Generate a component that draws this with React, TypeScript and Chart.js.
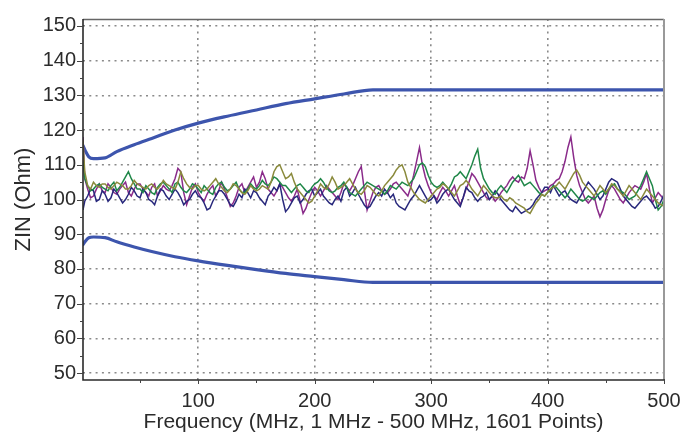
import React, { useEffect, useRef } from "react";
import { Chart, registerables } from "chart.js";

Chart.register(...registerables);

const freqs = [1, 2.5, 5, 7.5, 10, 12.5, 15, 17.5, 20, 22.5, 25, 27.5, 30, 32.5, 35, 37.5, 40, 42.5, 45, 47.5,
  50, 52.5, 55, 57.5, 60, 62.5, 65, 67.5, 70, 72.5, 75, 77.5, 80, 82.5, 85, 87.5, 90, 92.5, 95, 97.5,
  100, 102.5, 105, 107.5, 110, 112.5, 115, 117.5, 120, 122.5, 125, 127.5, 130, 132.5, 135, 137.5, 140, 142.5, 145, 147.5,
  150, 152.5, 155, 157.5, 160, 162.5, 165, 167.5, 170, 172.5, 175, 177.5, 180, 182.5, 185, 187.5, 190, 192.5, 195, 197.5,
  200, 202.5, 205, 207.5, 210, 212.5, 215, 217.5, 220, 222.5, 225, 227.5, 230, 232.5, 235, 237.5, 240, 242.5, 245, 247.5,
  250, 252.5, 255, 257.5, 260, 262.5, 265, 267.5, 270, 272.5, 275, 277.5, 280, 282.5, 285, 287.5, 290, 292.5, 295, 297.5,
  300, 302.5, 305, 307.5, 310, 312.5, 315, 317.5, 320, 322.5, 325, 327.5, 330, 332.5, 335, 337.5, 340, 342.5, 345, 347.5,
  350, 352.5, 355, 357.5, 360, 362.5, 365, 367.5, 370, 372.5, 375, 377.5, 380, 382.5, 385, 387.5, 390, 392.5, 395, 397.5,
  400, 402.5, 405, 407.5, 410, 412.5, 415, 417.5, 420, 422.5, 425, 427.5, 430, 432.5, 435, 437.5, 440, 442.5, 445, 447.5,
  450, 452.5, 455, 457.5, 460, 462.5, 465, 467.5, 470, 472.5, 475, 477.5, 480, 482.5, 485, 487.5, 490, 492.5, 495, 497.5,
  500];

const navyTrace = [97, 99.5, 101, 103, 102.5, 99.5, 100, 102.5, 101.5, 99.5, 100.5, 103, 102, 100.5, 99, 100, 101.5, 103.5, 102.5, 101,
  100.5, 103, 102, 100, 99.5, 98.5, 101, 103, 102.5, 101, 100, 101.5, 103, 102, 100.5, 98.5, 99.5, 100, 101.5, 102.5,
  101, 100.5, 99, 97, 97.5, 99.5, 101, 102.5, 102.5, 101.5, 100, 98.5, 98, 99.5, 101.5, 100.5, 103, 102, 100.5, 102.5,
  102, 100.5, 99.5, 98.5, 101, 102, 103.5, 102.5, 104.5, 100, 96.5, 97.5, 99, 100.5, 101, 99, 100, 101.5, 102.5, 103,
  101, 102, 103, 101, 100, 99, 98.5, 100, 101, 99.5, 102.5, 103.5, 101, 102, 103.5, 101.5, 100, 98.5, 97.5, 98,
  99.5, 101, 102, 101, 103, 102, 100.5, 101.5, 99, 98, 97.5, 97, 98.5, 100, 101, 102.5, 104, 102.5, 101, 99.5,
  100, 101, 99, 100, 101.5, 102.5, 103, 101.5, 100, 99, 98, 100.5, 103.5, 102.5, 102, 100.5, 99.5, 100.5, 101, 102,
  100, 101, 102.5, 101.5, 100, 99, 98, 97, 96.5, 98, 97, 96, 96.5, 97, 97.5, 98.5, 100, 101, 102, 103.5,
  103.5, 102, 104, 102.5, 101, 102, 102.5, 101, 100, 99.5, 99, 100.5, 102, 103.5, 105, 104, 103, 101.5, 100, 101,
  103, 105, 106, 105.5, 105, 103, 101, 100, 99, 98, 97.5, 98.5, 99.5, 100.5, 101, 100, 99, 97.5, 98, 99.5,
  101.5];

const purpleTrace = [118, 106, 103, 100.5, 101, 103, 104.5, 102.5, 102, 104.5, 103.5, 102, 101.5, 103, 104, 105, 102, 101, 103, 104.5,
  104.5, 103, 102, 101, 103.5, 104.5, 101, 102.5, 104, 103, 102.5, 104, 106, 109, 108, 102, 98.5, 101, 103.5, 104.5,
  102, 100.5, 99.5, 101.5, 103, 104, 101, 102.5, 105, 103, 100.5, 98, 99, 101, 103.5, 104.5, 102, 103.5, 105, 106.5,
  103.5, 105, 108, 106, 103, 102, 101, 102.5, 104.5, 103.5, 102, 100.5, 99.5, 101, 103, 99.5, 96, 97.5, 100, 102,
  103.5, 102.5, 101, 102.5, 104, 103, 102, 101, 100, 102, 104.5, 103.5, 102.5, 104, 106, 108, 109.5, 103, 97, 99.5,
  102, 103.5, 104, 102.5, 101.5, 102, 103, 104.5, 105, 104, 103, 102, 101, 103.5, 107, 111, 115, 110, 106.5, 104,
  102, 101, 100, 102, 103.5, 102.5, 101, 102.5, 104, 101, 98.5, 100.5, 103, 105, 107.5, 106.5, 105, 103.5, 102, 100.5,
  100, 101, 99.5, 100.5, 102, 103, 104, 105.5, 106.5, 105.5, 105, 106.5, 106, 109, 114, 110, 105.5, 103.5, 102, 102.5,
  103, 104, 104.5, 105.5, 106, 108, 111, 115, 118, 112, 107, 104, 102, 100, 99, 100, 101, 97.5, 95, 97,
  100, 102.5, 104, 103, 101.5, 100, 99, 100.5, 102, 103, 104, 103.5, 103, 105, 107.5, 103, 99, 100.5, 102, 101,
  100];

const greenTrace = [111, 106, 104, 102.5, 103, 104, 104.5, 103.5, 103, 102.5, 104, 105, 102.5, 103.5, 105, 106.5, 108, 106, 104.5, 103,
  103, 102, 104, 103, 102, 101.5, 103.5, 104.5, 105, 104, 103, 102, 104.5, 105, 103.5, 102.5, 102, 103, 104.5, 104,
  103, 102, 104, 103, 102, 101.5, 103.5, 104.5, 105, 103.5, 102.5, 103, 104, 105, 103, 102, 102, 103, 104.5, 103.5,
  103, 104, 105.5, 104.5, 104, 105, 106.5, 106, 105, 104, 104, 103, 102, 103, 104, 104.5, 103.5, 102.5, 102, 103.5,
  104.5, 105, 106, 105, 103.5, 102.5, 102, 102.5, 103.5, 104, 105, 103.5, 102, 101.5, 101, 102, 103, 104, 105, 104.5,
  104, 103.5, 103, 102.5, 101.5, 102.5, 104, 103.5, 103, 104, 105, 104.5, 104, 105, 106, 108, 110, 110.5, 109.5, 107,
  105, 104, 103.5, 104, 105, 104, 103, 104.5, 106.5, 107, 108, 107, 106, 108, 110, 112.5, 114.5, 109, 106, 104.5,
  103, 102, 101.5, 103, 104, 103, 102, 103.5, 105, 106, 107, 105.5, 104, 104.5, 105, 104, 103, 102, 101.5, 101,
  102, 103, 104, 103.5, 102.5, 101.5, 100.5, 101.5, 103, 102, 101, 100, 99.5, 100, 101, 100.5, 100, 101, 102, 102.5,
  101.5, 103, 104, 104.5, 103, 102.5, 102, 101, 100, 100.5, 101, 102.5, 104, 106, 108, 106, 104, 100, 97, 98,
  100];

const oliveTrace = [117, 108, 104, 103, 105, 104, 103.5, 104.5, 104.5, 103.5, 103, 104, 105, 104.5, 104, 103, 103, 104, 105.5, 104.5,
  104, 103.5, 103, 104, 104.5, 103.5, 103, 104, 105.5, 104.5, 104, 103.5, 103, 105, 108, 106, 104.5, 103.5, 103, 104,
  104, 103, 102.5, 103, 104, 105, 106, 104.5, 103.5, 102.5, 102, 103, 104.5, 104, 103, 102, 101.5, 102.5, 104, 103,
  102.5, 103, 104, 103.5, 103, 105, 108, 109.5, 110, 108, 106, 106.5, 107.5, 105, 103, 102, 101, 100, 99, 99.5,
  101, 102.5, 104.5, 103.5, 103, 104.5, 106.5, 105, 103, 103.5, 104, 105, 106, 104.5, 103, 102, 101.5, 102.5, 104, 103.5,
  102.5, 101.5, 101, 102.5, 104, 105, 106, 107, 108.5, 109.5, 110, 108, 105, 103.5, 102, 101, 100, 99.5, 99, 100,
  101, 102, 103, 103.5, 104.5, 104, 103, 102, 101, 102.5, 104, 104.5, 105.5, 104.5, 103, 102, 101, 102.5, 104, 103,
  102, 101, 100.5, 100.5, 101, 100, 99.5, 100.5, 100, 99, 98.5, 98, 97.5, 96.5, 96, 97.5, 99, 100, 101.5, 101,
  102, 103, 103.5, 104, 105, 104, 103, 104.5, 106, 107.5, 108.5, 107, 105, 104, 103, 102, 101, 102.5, 104, 103,
  102, 103, 104.5, 104, 103, 102, 101, 102.5, 104, 103, 102, 101, 100, 101.5, 103, 102, 101, 100, 99, 98.5,
  98];

const limitFreqs = [1, 3, 6, 10, 20, 30, 45, 60, 80, 100, 125, 150, 175, 200, 225, 250, 500];
const upperLimit = [115.5, 114, 112.3, 111.8, 112, 113.8, 115.8, 117.6, 120, 122, 124, 125.8, 127.6, 129, 130.4, 131.6, 131.6];
const lowerLimit = [87, 88, 89, 89.2, 89, 87.8, 86.3, 85, 83.5, 82.3, 81, 79.8, 78.7, 77.8, 76.9, 76.1, 76.1];

const xTickValues = [100, 200, 300, 400, 500];
const xMinorValues = [50, 150, 250, 350, 450];
const yTickValues = [50, 60, 70, 80, 90, 100, 110, 120, 130, 140, 150];
const yMinorValues = [55, 65, 75, 85, 95, 105, 115, 125, 135, 145];

const xTitle = "Frequency (MHz, 1 MHz - 500 MHz, 1601 Points)";
const yTitle = "ZIN (Ohm)";

const FONT = "'Liberation Sans', Arial, sans-serif";
const TEXT = "#2b2b2b";

const pts = (xs: number[], ys: number[]) => xs.map((x, i) => ({ x, y: ys[i] }));

const frame = {
  id: "frame",
  afterDatasetsDraw(chart: any) {
    const { ctx, chartArea: a, scales } = chart;
    const xs = scales.x, ys = scales.y;
    ctx.save();
    ctx.lineCap = "butt";
    ctx.strokeStyle = "#666";
    ctx.lineWidth = 1.5;
    ctx.beginPath();
    ctx.moveTo(a.left, a.top + 0.5);
    ctx.lineTo(a.right, a.top + 0.5);
    ctx.stroke();
    ctx.strokeStyle = "#999";
    ctx.lineWidth = 2;
    ctx.beginPath();
    ctx.moveTo(a.right, a.top);
    ctx.lineTo(a.right, a.bottom);
    ctx.stroke();
    ctx.strokeStyle = "#2a2a2a";
    ctx.lineWidth = 1.6;
    ctx.beginPath();
    ctx.moveTo(a.left, a.top);
    ctx.lineTo(a.left, a.bottom);
    ctx.lineTo(a.right + 1, a.bottom);
    ctx.stroke();
    ctx.lineWidth = 1;
    ctx.strokeStyle = "#444";
    ctx.beginPath();
    yTickValues.forEach((v) => {
      const y = Math.round(ys.getPixelForValue(v)) + 0.5;
      ctx.moveTo(a.left - 6, y);
      ctx.lineTo(a.left, y);
    });
    yMinorValues.forEach((v) => {
      const y = Math.round(ys.getPixelForValue(v)) + 0.5;
      ctx.moveTo(a.left - 3, y);
      ctx.lineTo(a.left, y);
    });
    xTickValues.forEach((v) => {
      const x = Math.round(xs.getPixelForValue(v)) + 0.5;
      ctx.moveTo(x, a.bottom);
      ctx.lineTo(x, a.bottom + 4);
    });
    xMinorValues.forEach((v) => {
      const x = Math.round(xs.getPixelForValue(v)) + 0.5;
      ctx.moveTo(x, a.bottom);
      ctx.lineTo(x, a.bottom + 3);
    });
    ctx.stroke();
    ctx.restore();
  },
};

export default function App() {
  const ref = useRef<HTMLCanvasElement>(null);
  useEffect(() => {
    document.body.style.margin = "0";
    const trace = (label: string, data: number[], color: string) => ({
      label,
      data: pts(freqs, data),
      borderColor: color,
      borderWidth: 1.5,
      pointRadius: 0,
      tension: 0,
    });
    const limit = (label: string, data: number[]) => ({
      label,
      data: pts(limitFreqs, data),
      borderColor: "#3d55ad",
      borderWidth: 3.2,
      pointRadius: 0,
      cubicInterpolationMode: "monotone",
      borderCapStyle: "round",
      borderJoinStyle: "round",
    });
    const grid = {
      color: "#8a8a8a",
      lineWidth: 1.6,
      drawTicks: false,
      tickLength: 0,
    };
    const chart = new Chart(ref.current as HTMLCanvasElement, {
      type: "line",
      data: {
        datasets: [
          trace("Olive", oliveTrace, "#8a8a3c"),
          trace("Green", greenTrace, "#1f8748"),
          trace("Navy", navyTrace, "#28287c"),
          trace("Purple", purpleTrace, "#8a2b8a"),
          limit("Upper", upperLimit),
          limit("Lower", lowerLimit),
        ] as any,
      },
      options: {
        animation: false,
        responsive: false,
        maintainAspectRatio: false,
        layout: { padding: { top: 12, right: 31, left: 0, bottom: 0 } },
        plugins: { legend: { display: false }, tooltip: { enabled: false } },
        scales: {
          x: {
            type: "linear",
            min: 1,
            max: 500,
            afterBuildTicks: (s: any) => {
              s.ticks = xTickValues.map((v) => ({ value: v }));
            },
            afterFit: (s: any) => {
              s.height = 55;
            },
            border: { display: false, dash: [2, 4.3] },
            grid,
            ticks: {
              color: TEXT,
              padding: 9,
              maxRotation: 0,
              font: { family: FONT, size: 20 },
            },
            title: {
              display: true,
              text: xTitle,
              color: TEXT,
              font: { family: FONT, size: 21 },
              padding: { top: 0, bottom: 0 },
            },
          },
          y: {
            type: "linear",
            min: 48,
            max: 152,
            afterBuildTicks: (s: any) => {
              s.ticks = yTickValues.map((v) => ({ value: v }));
            },
            afterFit: (s: any) => {
              s.width = 83;
            },
            border: { display: false, dash: [2, 4.3] },
            grid,
            ticks: {
              color: TEXT,
              padding: 7,
              font: { family: FONT, size: 20 },
            },
            title: {
              display: true,
              text: yTitle,
              color: TEXT,
              font: { family: FONT, size: 22 },
              padding: { top: 11, bottom: 0 },
            },
          },
        },
      },
      plugins: [frame],
    } as any);
    return () => chart.destroy();
  }, []);
  return (
    <div style={{ width: 695, height: 435, background: "#fff" }}>
      <canvas ref={ref} width={695} height={435} style={{ display: "block" }} />
    </div>
  );
}
